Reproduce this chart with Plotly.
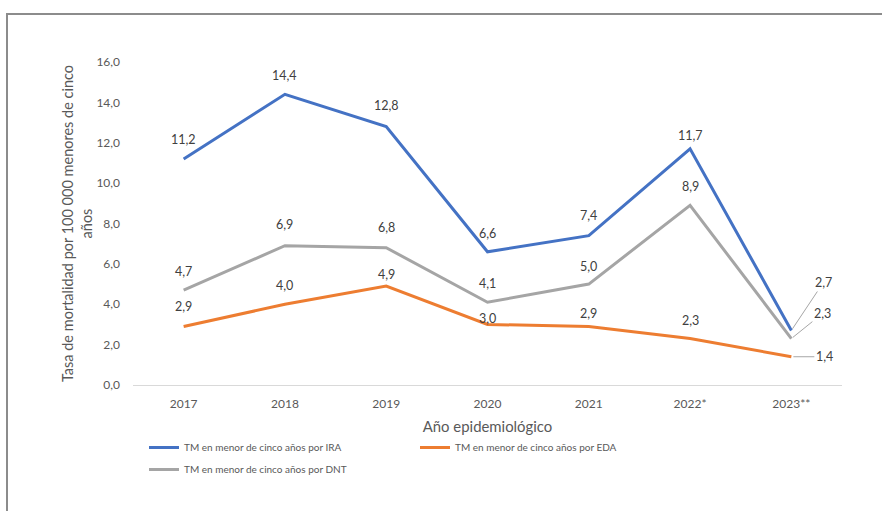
import plotly.graph_objects as go

years = ["2017", "2018", "2019", "2020", "2021", "2022*", "2023**"]
ira = [11.2, 14.4, 12.8, 6.6, 7.4, 11.7, 2.7]
eda = [2.9, 4.0, 4.9, 3.0, 2.9, 2.3, 1.4]
dnt = [4.7, 6.9, 6.8, 4.1, 5.0, 8.9, 2.3]

names = [
    "TM en menor de cinco años por IRA",
    "TM en menor de cinco años por EDA",
    "TM en menor de cinco años por DNT",
]
colors = ["#4472C4", "#ED7D31", "#A5A5A5"]
series = [ira, eda, dnt]
legend_ids = ["legend", "legend", "legend2"]

# label placement (pixels above point) for the first six points of each series
label_shift = [
    [19, 19, 21, 18, 20, 13],
    [20, 19, 12, 6, 13, 18],
    [19, 21, 20, 19, 18, 19],
]
# leader-line offsets for the last point of each series
last_offsets = [(32, -48), (33, 0), (31, -25)]

FONT = "Lato, Open Sans, sans-serif"
TXT = "#595959"
LBL = "#404040"

fig = go.Figure()
for name, vals, col, lg in zip(names, series, colors, legend_ids):
    fig.add_trace(go.Scatter(x=years, y=vals, mode="lines", name=name, legend=lg,
                             line=dict(color=col, width=3)))

def fmt(v):
    return f"{v:.1f}".replace(".", ",")

annotations = []
for vals, shifts, off in zip(series, label_shift, last_offsets):
    for i, v in enumerate(vals):
        if i < len(vals) - 1:
            annotations.append(dict(x=i, y=v, text=fmt(v), showarrow=False,
                                    yshift=shifts[i],
                                    font=dict(family=FONT, size=12.5, color=LBL)))
        else:
            annotations.append(dict(x=i, y=v, text=fmt(v), showarrow=True,
                                    ax=off[0], ay=off[1], arrowhead=0, arrowwidth=1,
                                    arrowcolor="#A6A6A6", standoff=2, startstandoff=0,
                                    font=dict(family=FONT, size=12.5, color=LBL)))

L, R, T, B = 133, 40, 62, 126
W, H = 882, 511
pw, ph = W - L - R, H - T - B

def px(xp):
    return (xp - L) / pw

def py(yp):
    return (H - B - yp) / ph

shapes = [
    dict(type="line", xref="paper", yref="paper", x0=px(7), x1=px(7), y0=py(13), y1=py(520),
         line=dict(color="#8C8C8C", width=2)),
    dict(type="line", xref="paper", yref="paper", x0=px(6), x1=px(890), y0=py(14), y1=py(14),
         line=dict(color="#8C8C8C", width=2)),
]

legfont = dict(family=FONT, size=10, color=TXT)

fig.update_layout(
    width=W, height=H,
    margin=dict(l=L, r=R, t=T, b=B),
    paper_bgcolor="white", plot_bgcolor="white",
    separators=",.",
    font=dict(family=FONT, size=12, color=TXT),
    showlegend=True,
    legend=dict(orientation="h", x=px(144), y=py(433), xanchor="left", yanchor="top",
                entrywidth=226, entrywidthmode="pixels",
                font=legfont, bgcolor="rgba(0,0,0,0)"),
    legend2=dict(orientation="h", x=px(144), y=py(455), xanchor="left", yanchor="top",
                 font=legfont, bgcolor="rgba(0,0,0,0)"),
    xaxis=dict(type="category", range=[-0.5, 6.5], showgrid=False, showline=True,
               linecolor="#D9D9D9", linewidth=1, ticks="", zeroline=False,
               ticklabelstandoff=8,
               tickfont=dict(family=FONT, size=12, color=TXT),
               title=dict(text="Año epidemiológico", standoff=11,
                          font=dict(family=FONT, size=14.9, color=TXT))),
    yaxis=dict(range=[0, 16], dtick=2, tickformat=".1f", showgrid=False, zeroline=False,
               showline=False, ticks="", ticklabelstandoff=12,
               tickfont=dict(family=FONT, size=12, color=TXT),
               title=dict(text="Tasa de mortalidad por 100 000 menores de cinco<br>años",
                          standoff=0, font=dict(family=FONT, size=14.5, color=TXT))),
    annotations=annotations,
    shapes=shapes,
)

fig.write_html("out.html", config={"displayModeBar": False},
               post_script="document.body.style.margin='0px';")
